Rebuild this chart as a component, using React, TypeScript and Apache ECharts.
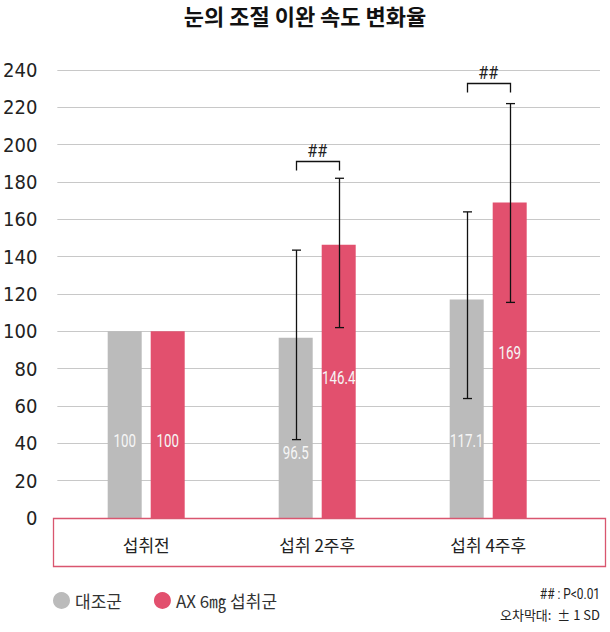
import React, { useEffect, useRef } from "react";
import * as echarts from "echarts";

const categories = ["섭취전", "섭취 2주후", "섭취 4주후"];
const seriesNames = ["대조군", "AX 6㎎ 섭취군"];
const controlValues = [100, 96.5, 117.1];
const treatedValues = [100, 146.4, 169];
const controlErrLow = [null, 42, 64];
const controlErrHigh = [null, 143.5, 164];
const treatedErrLow = [null, 102, 115.5];
const treatedErrHigh = [null, 182, 222];
const bracketLevel = [null, 191, 233];
const bracketMark = ["", "##", "##"];
const yMin = 0;
const yMax = 240;
const yStep = 20;
const footnotes = ["## : P<0.01", "오차막대:  ± 1 SD"];

// layout (pixels)
const BAR_W = 34;
const BAR_GAP_PX = 9;
const BAR_OFFSET = (BAR_W + BAR_GAP_PX) / 2;
const CAP = 4.5;
const labelLift = [
  [77, 65, 77],
  [77, 140, 165],
];

const GRAY = "#bbbbbb";
const RED = "#e2506e";
const NARROW = "'DejaVu Sans Condensed', 'Roboto', sans-serif";
const KR = "'Noto Sans CJK KR', 'Noto Sans', sans-serif";

export default function App() {
  const ref = useRef<HTMLDivElement>(null);
  useEffect(() => {
    if (!ref.current) return;
    const chart = echarts.init(ref.current, null, { renderer: "svg" });

    const errData: any[] = [];
    const labelData: any[] = [];
    categories.forEach((_, i) => {
      if (controlErrLow[i] != null) errData.push([i, controlErrLow[i], controlErrHigh[i], -1]);
      if (treatedErrLow[i] != null) errData.push([i, treatedErrLow[i], treatedErrHigh[i], 1]);
      labelData.push([i, controlValues[i], -1, labelLift[0][i]]);
      labelData.push([i, treatedValues[i], 1, labelLift[1][i]]);
    });
    const bracketData: any[] = [];
    categories.forEach((_, i) => {
      if (bracketLevel[i] != null) bracketData.push([i, bracketLevel[i], i]);
    });

    const lineStyle = { stroke: "#111", lineWidth: 1.3 };

    chart.setOption({
      animation: false,
      title: {
        text: "눈의 조절 이완 속도 변화율",
        left: "center",
        top: 4,
        padding: 0,
        textStyle: { fontFamily: KR, fontSize: 22, fontWeight: "bold", color: "#111", lineHeight: 22 },
      },
      legend: {
        data: seriesNames,
        left: 53,
        top: 592,
        icon: "circle",
        itemWidth: 17,
        itemHeight: 17,
        itemGap: 32,
        padding: 0,
        textStyle: { fontFamily: KR, fontSize: 17, color: "#333" },
      },
      grid: [
        { left: 55, right: 10, top: 70, bottom: 114 },
        { left: 60.7, right: 36.3, top: 70, bottom: 114 },
      ],
      xAxis: [
        { gridIndex: 0, type: "value", show: false, min: 0, max: 1 },
        {
          gridIndex: 1,
          type: "category",
          data: categories,
          axisLine: { show: false },
          axisTick: { show: false },
          axisLabel: { margin: 18, fontFamily: KR, fontSize: 17, color: "#222" },
        },
      ],
      yAxis: [
        {
          gridIndex: 0,
          type: "value",
          min: yMin,
          max: yMax,
          interval: yStep,
          axisLine: { show: false },
          axisTick: { show: false },
          axisLabel: { margin: 20, fontFamily: NARROW, fontSize: 20, color: "#222" },
          splitLine: { lineStyle: { color: "#c8c8c8", width: 1 } },
        },
        { gridIndex: 1, type: "value", min: yMin, max: yMax, interval: yStep, show: false, splitLine: { show: false } },
      ],
      series: [
        {
          name: seriesNames[0],
          type: "bar",
          xAxisIndex: 1,
          yAxisIndex: 1,
          barWidth: BAR_W,
          barGap: (BAR_GAP_PX / BAR_W) * 100 + "%",
          itemStyle: { color: GRAY },
          data: controlValues,
        },
        {
          name: seriesNames[1],
          type: "bar",
          xAxisIndex: 1,
          yAxisIndex: 1,
          barWidth: BAR_W,
          barGap: (BAR_GAP_PX / BAR_W) * 100 + "%",
          itemStyle: { color: RED },
          data: treatedValues,
        },
        {
          type: "custom",
          xAxisIndex: 1,
          yAxisIndex: 1,
          z: 4,
          data: labelData,
          silent: true,
          renderItem: (params: any, api: any) => {
            const cat = api.value(0);
            const base = api.coord([cat, 0]);
            return {
              type: "text",
              x: base[0] + api.value(2) * BAR_OFFSET,
              y: base[1] - api.value(3),
              scaleX: 0.74,
              style: {
                text: String(api.value(1)),
                fontFamily: "Roboto, sans-serif",
                fontSize: 18,
                fill: "#f6f6f6",
                align: "center",
                verticalAlign: "middle",
              },
            };
          },
        },
        {
          type: "custom",
          xAxisIndex: 1,
          yAxisIndex: 1,
          z: 5,
          data: errData,
          renderItem: (params: any, api: any) => {
            const cat = api.value(0);
            const lo = api.coord([cat, api.value(1)]);
            const hi = api.coord([cat, api.value(2)]);
            const x = Math.round(lo[0] + api.value(3) * BAR_OFFSET) + 0.5;
            return {
              type: "group",
              children: [
                { type: "line", shape: { x1: x, y1: hi[1], x2: x, y2: lo[1] }, style: lineStyle },
                { type: "line", shape: { x1: x - CAP, y1: hi[1], x2: x + CAP, y2: hi[1] }, style: lineStyle },
                { type: "line", shape: { x1: x - CAP, y1: lo[1], x2: x + CAP, y2: lo[1] }, style: lineStyle },
              ],
            };
          },
        },
        {
          type: "custom",
          xAxisIndex: 1,
          yAxisIndex: 1,
          z: 5,
          data: bracketData,
          renderItem: (params: any, api: any) => {
            const cat = api.value(0);
            const p = api.coord([cat, api.value(1)]);
            const xl = Math.round(p[0] - BAR_OFFSET) + 0.5;
            const xr = Math.round(p[0] + BAR_OFFSET) + 0.5;
            const y = Math.round(p[1]) + 0.5;
            return {
              type: "group",
              children: [
                {
                  type: "polyline",
                  shape: { points: [[xl, y + 9], [xl, y], [xr, y], [xr, y + 9]] },
                  style: { stroke: "#111", lineWidth: 1.3, fill: "none" },
                },
                {
                  type: "text",
                  x: p[0],
                  y: y - 11,
                  scaleX: 0.85,
                  style: {
                    text: bracketMark[api.value(2)],
                    fontFamily: "Roboto, sans-serif",
                    fontSize: 19,
                    fill: "#222",
                    align: "center",
                    verticalAlign: "middle",
                  },
                },
              ],
            };
          },
        },
      ],
      graphic: [
        {
          type: "rect",
          shape: { x: 53.5, y: 518.5, width: 552, height: 48 },
          style: { fill: "none", stroke: "#d9566f", lineWidth: 1.3 },
          z: 10,
        },
        {
          type: "text",
          x: 600,
          y: 594,
          scaleX: 0.85,
          style: { text: footnotes[0], fontFamily: "Roboto, sans-serif", fontSize: 14, fill: "#222", align: "right", verticalAlign: "middle" },
        },
        {
          type: "text",
          x: 600,
          y: 614,
          style: { text: footnotes[1], fontFamily: KR, fontSize: 13, fill: "#222", align: "right", verticalAlign: "middle" },
        },
      ],
    });
    return () => chart.dispose();
  }, []);
  return <div ref={ref} style={{ width: 610, height: 632, position: "absolute", left: 0, top: 0 }} />;
}
